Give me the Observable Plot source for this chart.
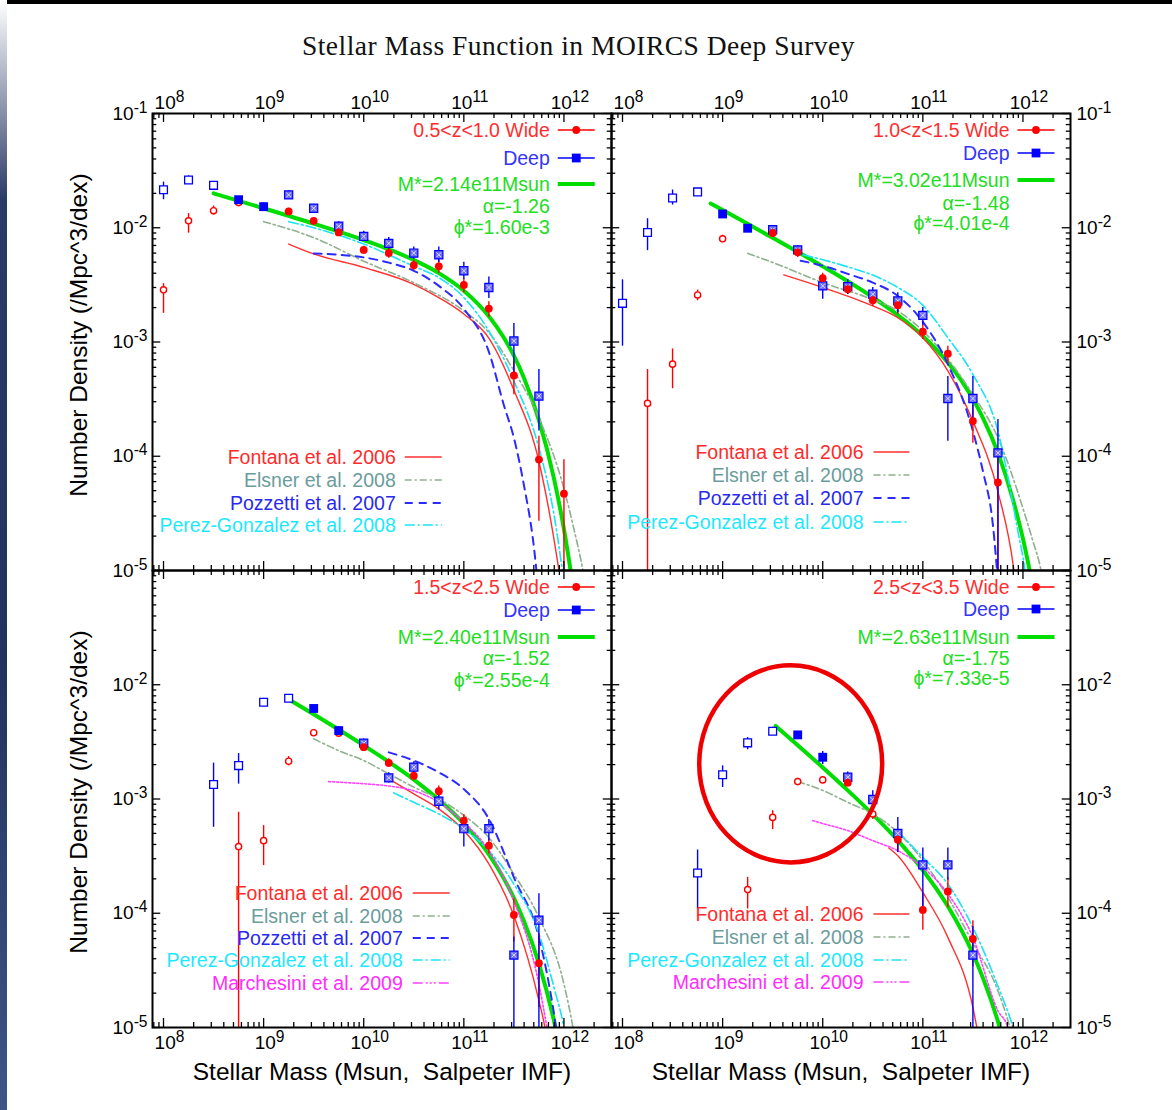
<!DOCTYPE html>
<html><head><meta charset="utf-8">
<script src="https://cdn.jsdelivr.net/npm/d3@7"></script>
<script src="https://cdn.jsdelivr.net/npm/@observablehq/plot@0.6"></script>
<style>
html,body{margin:0;padding:0;background:#fff;}
#page{position:relative;width:1172px;height:1110px;overflow:hidden;background:#fff;}
#title{position:absolute;left:0;top:31px;width:1157px;text-align:center;font-family:"Liberation Serif","DejaVu Serif",serif;font-size:27.5px;letter-spacing:0.5px;line-height:30px;color:#111;}
#chart{position:absolute;left:0;top:80px;}
#topbar{position:absolute;left:0;top:0;width:1172px;height:4px;background:#000;}
#sidebar{position:absolute;left:0;top:0;width:7px;height:1110px;background:linear-gradient(to bottom,#ffffff 0%,#2a3a66 18%,#22325e 60%,#3f5588 100%);}
svg text{white-space:pre;}
</style></head>
<body><div id="page"><div id="title">Stellar Mass Function in MOIRCS Deep Survey</div><div id="chart"></div><div id="topbar"></div><div id="sidebar"></div></div>
<script>
// ---------------- DATA (log10 stellar mass, number density, error low, error high, marker) ----------------
// marker: "o" open, "f" filled, "h" hatched
const panelKeys = [["L","T"],["R","T"],["L","B"],["R","B"]];
const zLabels = ["0.5<z<1.0 Wide","1.0<z<1.5 Wide","1.5<z<2.5 Wide","2.5<z<3.5 Wide"];
const deepLabel = "Deep";
const mStarLabels = ["M*=2.14e11Msun","M*=3.02e11Msun","M*=2.40e11Msun","M*=2.63e11Msun"];
const alphaLabels = ["α=-1.26","α=-1.48","α=-1.52","α=-1.75"];
const phiLabels = ["ϕ*=1.60e-3","ϕ*=4.01e-4","ϕ*=2.55e-4","ϕ*=7.33e-5"];
const refNames = {fontana:"Fontana et al. 2006", elsner:"Elsner et al. 2008", pozzetti:"Pozzetti et al. 2007", perez:"Perez-Gonzalez et al. 2008", marchesini:"Marchesini et al. 2009"};
const panelRefs = [["fontana","elsner","pozzetti","perez"],["fontana","elsner","pozzetti","perez"],["fontana","elsner","pozzetti","perez","marchesini"],["fontana","elsner","perez","marchesini"]];
const xTicks = [1e8,1e9,1e10,1e11,1e12];
const yTicks = [1e-5,1e-4,1e-3,1e-2,1e-1];
const xTitle = "Stellar Mass (Msun,  Salpeter IMF)";
const yTitle = "Number Density (/Mpc^3/dex)";

const wide1 = [
 [8.00,2.86e-3,1.78e-3,3.24e-3,"o"],[8.25,1.15e-2,8.97e-3,1.33e-2,"o"],[8.50,1.41e-2,1.29e-2,1.55e-2,"o"],[8.75,1.66e-2,1.55e-2,1.78e-2,"o"],
 [9.25,1.39e-2,1.30e-2,1.48e-2,"f"],[9.50,1.15e-2,1.07e-2,1.23e-2,"f"],[9.75,9.1e-3,8.4e-3,9.8e-3,"f"],[10.00,6.4e-3,5.9e-3,6.9e-3,"f"],
 [10.25,6.0e-3,5.4e-3,6.6e-3,"f"],[10.50,4.7e-3,4.2e-3,5.2e-3,"f"],[10.75,4.6e-3,4.0e-3,5.2e-3,"f"],[11.00,3.16e-3,2.7e-3,3.6e-3,"f"],
 [11.25,1.96e-3,1.65e-3,2.25e-3,"f"],[11.50,5.1e-4,3.45e-4,6.8e-4,"f"],[11.75,9.35e-5,2.7e-5,1.5e-4,"f"],[12.00,4.7e-5,1e-6,9.3e-5,"f"]
];
const deep1 = [
 [8.00,2.15e-2,1.76e-2,2.51e-2,"o"],[8.25,2.62e-2,2.40e-2,2.85e-2,"o"],[8.50,2.35e-2,2.20e-2,2.50e-2,"o"],[8.75,1.76e-2,1.65e-2,1.88e-2,"f"],
 [9.00,1.53e-2,1.42e-2,1.65e-2,"f"],[9.25,1.94e-2,1.80e-2,2.10e-2,"h"],[9.50,1.48e-2,1.38e-2,1.60e-2,"h"],[9.75,1.03e-2,9.4e-3,1.13e-2,"h"],
 [10.00,8.4e-3,7.6e-3,9.3e-3,"h"],[10.25,7.3e-3,6.5e-3,8.2e-3,"h"],[10.50,6.0e-3,5.3e-3,6.8e-3,"h"],[10.75,5.8e-3,5.0e-3,6.8e-3,"h"],
 [11.00,4.2e-3,3.55e-3,5.0e-3,"h"],[11.25,3.0e-3,2.4e-3,3.7e-3,"h"],[11.50,1.02e-3,5.2e-4,1.45e-3,"h"],[11.75,3.36e-4,1.66e-4,5.75e-4,"h"]
];
const wide2 = [
 [8.25,2.9e-4,1e-6,5.75e-4,"o"],[8.50,6.4e-4,3.9e-4,8.7e-4,"o"],[8.75,2.58e-3,2.3e-3,2.85e-3,"o"],[9.00,8.0e-3,7.4e-3,8.6e-3,"o"],
 [9.50,9.0e-3,8.3e-3,9.7e-3,"f"],[9.75,6.1e-3,5.5e-3,6.7e-3,"f"],[10.00,3.62e-3,3.3e-3,4.0e-3,"f"],[10.25,2.9e-3,2.6e-3,3.2e-3,"f"],
 [10.50,2.32e-3,2.05e-3,2.6e-3,"f"],[10.75,2.1e-3,1.75e-3,2.5e-3,"f"],[11.00,1.23e-3,1.05e-3,1.42e-3,"f"],[11.25,7.9e-4,6.5e-4,9.2e-4,"f"],
 [11.50,2.03e-4,1.3e-4,2.8e-4,"f"],[11.75,5.9e-5,1e-6,1.0e-4,"f"]
];
const deep2 = [
 [8.00,2.18e-3,9.2e-4,3.5e-3,"o"],[8.25,9.1e-3,6.3e-3,1.2e-2,"o"],[8.50,1.82e-2,1.58e-2,2.14e-2,"o"],[8.75,2.06e-2,1.95e-2,2.2e-2,"o"],
 [9.00,1.32e-2,1.24e-2,1.4e-2,"f"],[9.25,9.9e-3,9.2e-3,1.07e-2,"f"],[9.50,9.6e-3,8.9e-3,1.04e-2,"h"],[9.75,6.4e-3,5.7e-3,7.0e-3,"h"],
 [10.00,3.1e-3,2.37e-3,3.66e-3,"h"],[10.25,3.05e-3,2.6e-3,3.5e-3,"h"],[10.50,2.62e-3,2.25e-3,3.0e-3,"h"],[10.75,2.29e-3,1.8e-3,2.7e-3,"h"],
 [11.00,1.71e-3,1.4e-3,2.0e-3,"h"],[11.25,3.2e-4,1.35e-4,5.0e-4,"h"],[11.50,3.2e-4,2.0e-4,5.0e-4,"h"],[11.75,1.07e-4,1e-6,2.1e-4,"h"]
];
const wide3 = [
 [8.75,3.83e-4,1e-6,7.66e-4,"o"],[9.00,4.32e-4,2.61e-4,5.85e-4,"o"],[9.25,2.14e-3,1.95e-3,2.35e-3,"o"],[9.50,3.8e-3,3.55e-3,4.05e-3,"o"],
 [9.75,3.77e-3,3.5e-3,4.0e-3,"o"],[10.00,2.84e-3,2.6e-3,3.1e-3,"f"],[10.25,2.07e-3,1.9e-3,2.25e-3,"f"],[10.50,1.6e-3,1.45e-3,1.78e-3,"f"],
 [10.75,1.17e-3,1.05e-3,1.3e-3,"f"],[11.00,6.47e-4,5.7e-4,7.3e-4,"f"],[11.25,3.9e-4,3.3e-4,4.5e-4,"f"],[11.50,9.66e-5,5.6e-5,1.34e-4,"f"],
 [11.75,3.65e-5,1.5e-5,6.6e-5,"f"]
];
const deep3 = [
 [8.50,1.34e-3,5.65e-4,2.06e-3,"o"],[8.75,1.96e-3,1.35e-3,2.5e-3,"o"],[9.00,7.03e-3,6.5e-3,7.6e-3,"o"],[9.25,7.62e-3,7.2e-3,8.0e-3,"o"],
 [9.50,6.2e-3,5.8e-3,6.6e-3,"f"],[9.75,3.97e-3,3.7e-3,4.3e-3,"f"],[10.00,3.08e-3,2.85e-3,3.35e-3,"h"],[10.25,1.53e-3,1.38e-3,1.7e-3,"h"],
 [10.50,1.9e-3,1.7e-3,2.12e-3,"h"],[10.75,9.55e-4,8.0e-4,1.1e-3,"h"],[11.00,5.5e-4,3.8e-4,6.0e-4,"h"],[11.25,5.5e-4,4.3e-4,6.6e-4,"h"],
 [11.50,4.3e-5,1e-6,6.2e-5,"h"],[11.75,8.7e-5,1e-6,1.48e-4,"h"]
];
const wide4 = [
 [9.25,1.61e-4,1.09e-4,2.06e-4,"o"],[9.50,6.9e-4,5.4e-4,7.9e-4,"o"],[9.75,1.42e-3,1.32e-3,1.52e-3,"o"],[10.00,1.47e-3,1.37e-3,1.57e-3,"o"],
 [10.25,1.39e-3,1.28e-3,1.5e-3,"f"],[10.50,7.4e-4,6.6e-4,8.2e-4,"o"],[10.75,4.4e-4,3.4e-4,5.1e-4,"f"],[11.00,1.07e-4,7.1e-5,1.48e-4,"f"],
 [11.25,1.55e-4,1.12e-4,2.04e-4,"f"],[11.50,5.96e-5,3.4e-5,8.6e-5,"f"]
];
const deep4 = [
 [8.75,2.25e-4,1.09e-4,3.58e-4,"o"],[9.00,1.63e-3,1.26e-3,1.95e-3,"o"],[9.25,3.1e-3,2.7e-3,3.45e-3,"o"],[9.50,3.92e-3,3.6e-3,4.25e-3,"o"],
 [9.75,3.64e-3,3.4e-3,3.9e-3,"f"],[10.00,2.32e-3,2.0e-3,2.6e-3,"f"],[10.25,1.55e-3,1.35e-3,1.72e-3,"h"],[10.50,9.9e-4,8.0e-4,1.18e-3,"h"],
 [10.75,5.0e-4,3.41e-4,6.9e-4,"h"],[11.00,2.65e-4,1.13e-4,3.73e-4,"h"],[11.25,2.65e-4,1.95e-4,3.72e-4,"h"],[11.50,4.3e-5,1e-6,7.6e-5,"h"]
];

// curves: [log10 mass, number density]
const fit1 = [[8.5,2.0e-2],[9.0,1.48e-2],[9.5,1.086e-2],[10.0,7.8e-3],[10.5,5.22e-3],[10.75,4.01e-3],[11.0,2.81e-3],[11.25,1.68e-3],[11.4,1.09e-3],[11.5,7.6e-4],[11.6,4.87e-4],[11.75,2.07e-4],[11.9,6.4e-5],[12.0,2.3e-5],[12.1,6.4e-6]];
const fontana1 = [[9.25,7.2e-3],[9.5,5.9e-3],[10.0,4.5e-3],[10.5,3.2e-3],[10.75,2.45e-3],[11.0,1.76e-3],[11.25,1.08e-3],[11.5,3.8e-4],[11.75,9.0e-5],[11.95,1.0e-5],[12.0,5e-6]];
const elsner1 = [[9.0,1.13e-2],[9.5,8.2e-3],[10.0,5.1e-3],[10.5,3.3e-3],[11.0,1.87e-3],[11.25,1.21e-3],[11.5,5.6e-4],[11.75,2.17e-4],[12.0,5.2e-5],[12.1,2.3e-5],[12.19,1.0e-5],[12.25,5e-6]];
const pozzetti1 = [[9.5,5.96e-3],[9.75,5.8e-3],[10.0,5.5e-3],[10.25,4.95e-3],[10.5,4.2e-3],[10.75,3.1e-3],[11.0,1.95e-3],[11.25,8.2e-4],[11.4,2.8e-4],[11.5,1.45e-4],[11.6,5.6e-5],[11.7,1.6e-5],[11.75,6e-6]];
const perez1 = [[9.25,1.13e-2],[9.5,1.0e-2],[10.0,7.2e-3],[10.5,4.6e-3],[10.75,3.66e-3],[11.0,2.45e-3],[11.25,1.25e-3],[11.5,4.55e-4],[11.75,1.18e-4],[11.9,3.1e-5],[12.0,8e-6]];

const fit2 = [[8.88,1.63e-2],[9.0,1.43e-2],[9.5,8.16e-3],[10.0,4.59e-3],[10.5,2.46e-3],[10.75,1.72e-3],[11.0,1.13e-3],[11.25,6.6e-4],[11.4,4.39e-4],[11.5,3.17e-4],[11.6,2.17e-4],[11.75,1.07e-4],[11.9,4.19e-5],[12.0,1.9e-5],[12.1,7.2e-6]];
const fontana2 = [[9.61,3.87e-3],[10.0,3.0e-3],[10.5,2.07e-3],[10.75,1.63e-3],[11.0,1.09e-3],[11.25,5.6e-4],[11.5,2.03e-4],[11.75,4.9e-5],[11.91,1.0e-5],[11.95,5e-6]];
const elsner2 = [[9.25,5.96e-3],[9.5,4.97e-3],[10.0,3.31e-3],[10.5,2.35e-3],[10.75,1.87e-3],[11.0,1.25e-3],[11.25,7.1e-4],[11.5,3.47e-4],[11.75,1.45e-4],[12.0,3.5e-5],[12.1,1.8e-5],[12.18,1.0e-5],[12.22,6e-6]];
const pozzetti2 = [[9.78,5.14e-3],[10.0,4.65e-3],[10.25,3.95e-3],[10.5,3.31e-3],[10.75,2.53e-3],[11.0,1.5e-3],[11.25,6.4e-4],[11.5,1.66e-4],[11.6,7.4e-5],[11.7,2.5e-5],[11.75,8e-6]];
const perez2 = [[9.8,5.8e-3],[10.0,5.25e-3],[10.25,4.55e-3],[10.5,3.85e-3],[10.75,3.0e-3],[11.0,2.1e-3],[11.25,1.09e-3],[11.5,5.2e-4],[11.75,1.66e-4],[11.95,2.2e-5],[12.02,1.0e-5],[12.05,6e-6]];

const fit3 = [[9.25,7.47e-3],[9.5,5.51e-3],[10.0,2.94e-3],[10.5,1.48e-3],[10.75,9.87e-4],[11.0,6.1e-4],[11.25,3.27e-4],[11.4,2.01e-4],[11.5,1.36e-4],[11.6,8.57e-5],[11.75,3.62e-5],[11.9,1.15e-5],[12.0,4.3e-6]];
const fontana3 = [[10.25,1.5e-3],[10.5,1.11e-3],[10.75,8.2e-4],[11.0,5.3e-4],[11.25,2.7e-4],[11.5,9.5e-5],[11.75,1.72e-5],[11.81,1.0e-5],[11.85,6e-6]];
const elsner3 = [[9.5,3.37e-3],[9.75,2.65e-3],[10.0,2.17e-3],[10.25,1.66e-3],[10.5,1.27e-3],[10.75,1.0e-3],[11.0,7.2e-4],[11.25,4.6e-4],[11.5,2.2e-4],[11.75,9.2e-5],[12.0,2.4e-5],[12.09,1.0e-5],[12.12,7e-6]];
const pozzetti3 = [[10.25,2.56e-3],[10.5,2.17e-3],[10.75,1.71e-3],[11.0,1.22e-3],[11.25,6.7e-4],[11.5,2.06e-4],[11.75,6.15e-5],[11.85,2.4e-5],[11.92,1.0e-5],[11.95,6e-6]];
const perez3 = [[10.3,1.13e-3],[10.5,9.35e-4],[10.75,7.4e-4],[11.0,5.47e-4],[11.25,3.53e-4],[11.5,1.8e-4],[11.75,6.6e-5],[11.9,2.25e-5],[12.0,1.0e-5],[12.03,7e-6]];
const marchesini3 = [[9.65,1.42e-3],[10.0,1.36e-3],[10.25,1.3e-3],[10.5,1.18e-3],[10.75,9.35e-4],[11.0,6.25e-4],[11.25,3.53e-4],[11.5,1.29e-4],[11.75,2.4e-5],[11.83,1.0e-5],[11.86,7e-6]];

const fit4 = [[9.53,4.36e-3],[9.75,2.96e-3],[10.0,1.89e-3],[10.25,1.19e-3],[10.5,7.33e-4],[10.75,4.34e-4],[11.0,2.38e-4],[11.25,1.15e-4],[11.5,4.42e-5],[11.6,2.72e-5],[11.75,1.13e-5],[11.8,7.95e-6]];
const fontana4 = [[10.66,3.73e-4],[10.75,3.19e-4],[11.0,1.52e-4],[11.25,6.15e-5],[11.5,1.5e-5],[11.54,1.0e-5],[11.58,7e-6]];
const elsner4 = [[9.75,1.42e-3],[10.0,1.19e-3],[10.25,9.35e-4],[10.5,7.4e-4],[10.75,5.1e-4],[11.0,2.89e-4],[11.25,1.38e-4],[11.5,5.5e-5],[11.75,2.1e-5],[11.87,1.0e-5],[11.9,8e-6]];
const perez4 = [[10.75,5.2e-4],[11.0,3.09e-4],[11.25,1.8e-4],[11.5,7.5e-5],[11.75,2.3e-5],[11.9,1.0e-5],[11.93,8e-6]];
const marchesini4 = [[9.9,6.47e-4],[10.0,6.1e-4],[10.25,5.29e-4],[10.5,4.32e-4],[10.75,3.53e-4],[11.0,2.52e-4],[11.25,1.48e-4],[11.5,6.15e-5],[11.75,1.4e-5],[11.85,1.0e-5],[11.88,8e-6]];

// highlighted region (red ellipse) in the 2.5<z<3.5 panel: centre
const highlight = [{col:"R", row:"B", lm:9.68, phi:2.03e-3}];

// ---------------- STYLE / LAYOUT ----------------
const FONT = '"Liberation Sans", Arial, Helvetica, sans-serif';
const W = 1172, H = 1030, ML = 151, MR = 101.5, MT = 33, MB = 83;
const FW = (W - ML - MR) / 2, FH = (H - MT - MB) / 2;
const xDomain = [10 ** 7.89, 10 ** 12.475];
const yDomain = [1e-5, 1e-1];
const RED = "#ff0000", BLUE = "#0000ff";
const styles = {
  fit:       {stroke:"#00dd00", strokeWidth:4},
  fontana:   {stroke:"#ff3030", strokeWidth:1.4},
  elsner:    {stroke:"#8fb08f", strokeWidth:1.6, strokeDasharray:"7,3,2,3"},
  pozzetti:  {stroke:"#2b2bff", strokeWidth:2, strokeDasharray:"8,6"},
  perez:     {stroke:"#18e4f4", strokeWidth:1.6, strokeDasharray:"10,3,2,3"},
  marchesini:{stroke:"#ff40ff", strokeWidth:1.6, strokeDasharray:"2,2"}
};
const legendDash = {marchesini:"10,3,2,2,2,2,2,3"};
const refTextColor = {fontana:"#ff2b2b", elsner:"#6b9c9c", pozzetti:"#2a2aee", perez:"#1ee8ff", marchesini:"#ff2cff"};
const legendLayout = [
  {top:[17,45,71,93,114], bottom:[344,367,390,412], textR:215, lineA:206, lineB:169},
  {top:[17,40,67,90,110], bottom:[339,362,385,409], textR:207, lineA:197, lineB:161},
  {top:[17,40,67,88,110], bottom:[323,346,368,390,413], textR:208, lineA:198, lineB:161},
  {top:[17,39,67,88,108], bottom:[344,367,390,412], textR:207, lineA:197, lineB:161}
];
const LEG_FONT = 19.5, TICK_FONT = 19, TITLE_FONT = 24.5;

// ---------------- TABLES ----------------
const pts = [];
[[wide1,wide2,wide3,wide4],[deep1,deep2,deep3,deep4]].forEach((sets, s) => sets.forEach((arr, i) => arr.forEach(([lm, phi, lo, hi, k]) =>
  pts.push({set: s ? "deep" : "wide", kind:k, mass:10 ** lm, phi, lo, hi, col:panelKeys[i][0], row:panelKeys[i][1]}))));
const curveSets = {
  fit:[fit1,fit2,fit3,fit4], fontana:[fontana1,fontana2,fontana3,fontana4], elsner:[elsner1,elsner2,elsner3,elsner4],
  pozzetti:[pozzetti1,pozzetti2,pozzetti3,null], perez:[perez1,perez2,perez3,perez4], marchesini:[null,null,marchesini3,marchesini4]
};
const curveRows = [];
for (const [name, arrs] of Object.entries(curveSets)) arrs.forEach((arr, i) => { if (!arr) return;
  arr.forEach(([lm, phi]) => curveRows.push({name, key:name + i, col:panelKeys[i][0], row:panelKeys[i][1], mass:10 ** lm, phi})); });
const hl = highlight.map(d => ({...d, mass:10 ** d.lm}));

// tick label rows (the shared edge between the rows is labelled only once)
const yLab = [], xLab = [];
panelKeys.forEach(([col, row]) => {
  yTicks.forEach(v => { if (!(row === "B" && v === 1e-1)) yLab.push({col, row, v}); });
  xTicks.forEach(v => xLab.push({col, row, v}));
});

// minor ticks from the scale
const xAll = d3.scaleLog().domain(xDomain).ticks();
const yAll = d3.scaleLog().domain(yDomain).ticks();
const isMajor = v => Math.abs(Math.log10(v) - Math.round(Math.log10(v))) < 1e-9;
const xMinor = xAll.filter(v => !isMajor(v)), yMinor = yAll.filter(v => !isMajor(v));

const ellipseSymbol = {draw(ctx, size) {
  const r = Math.sqrt(size / Math.PI), rx = r * 0.963, ry = r * 1.037, k = 0.5523;
  ctx.moveTo(rx, 0);
  ctx.bezierCurveTo(rx, ry * k, rx * k, ry, 0, ry);
  ctx.bezierCurveTo(-rx * k, ry, -rx, ry * k, -rx, 0);
  ctx.bezierCurveTo(-rx, -ry * k, -rx * k, -ry, 0, -ry);
  ctx.bezierCurveTo(rx * k, -ry, rx, -ry * k, rx, 0);
  ctx.closePath();
}};

const fmt = d => "10^" + Math.round(Math.log10(d));
const tick = {stroke:"#000", strokeWidth:1.3};
const F = {fx:"col", fy:"row"};

const chart = Plot.plot({
  width: W, height: H, marginLeft: ML, marginRight: MR, marginTop: MT, marginBottom: MB,
  style: {fontFamily: FONT, fontSize: "18px", background: "transparent", color: "#000", overflow: "visible"},
  x: {type: "log", domain: xDomain, axis: null},
  y: {type: "log", domain: yDomain, axis: null},
  fx: {domain: ["L","R"], padding: 0, axis: null},
  fy: {domain: ["T","B"], padding: 0, axis: null},
  marks: [
    ...["fit","fontana","elsner","pozzetti","perez","marchesini"].map(name =>
      Plot.line(curveRows.filter(d => d.name === name), {x:"mass", y:"phi", z:"key", ...F, curve:"monotone-x", clip:true, ...styles[name]})),
    Plot.ruleX(pts.filter(d => d.set === "wide"), {x:"mass", y1:"lo", y2:"hi", ...F, stroke:RED, strokeWidth:1.4, clip:true}),
    Plot.dot(pts.filter(d => d.set === "wide" && d.kind === "o"), {x:"mass", y:"phi", ...F, r:3.1, stroke:RED, fill:"#fff", strokeWidth:1.4}),
    Plot.ruleX(pts.filter(d => d.set === "deep"), {x:"mass", y1:"lo", y2:"hi", ...F, stroke:BLUE, strokeWidth:1.4, clip:true}),
    Plot.dot(pts.filter(d => d.set === "deep" && d.kind === "o"), {x:"mass", y:"phi", ...F, symbol:"square", r:4.4, stroke:BLUE, fill:"#fff", strokeWidth:1.3}),
    Plot.dot(pts.filter(d => d.set === "deep" && d.kind === "f"), {x:"mass", y:"phi", ...F, symbol:"square", r:5, fill:BLUE}),
    Plot.dot(pts.filter(d => d.set === "deep" && d.kind === "h"), {x:"mass", y:"phi", ...F, symbol:"square", r:4.6, fill:"#6d6df2", stroke:BLUE, strokeWidth:1.2}),
    Plot.dot(pts.filter(d => d.set === "deep" && d.kind === "h"), {x:"mass", y:"phi", ...F, symbol:"times", r:2.2, stroke:"#e8e8ff", strokeWidth:0.9}),
    Plot.dot(pts.filter(d => d.set === "wide" && d.kind === "f"), {x:"mass", y:"phi", ...F, r:3.9, fill:RED}),
    Plot.dot(hl, {x:"mass", y:"phi", ...F, r:95, symbol:ellipseSymbol, stroke:"#ee0000", strokeWidth:4.5, fill:"none"}),
    Plot.frame({stroke:"#000", strokeWidth:2}),
    Plot.ruleY(yTicks, {y:d => d, insetRight: FW - 9, ...tick}),
    Plot.ruleY(yTicks, {y:d => d, insetLeft: FW - 9, ...tick}),
    Plot.ruleY(yMinor, {y:d => d, insetRight: FW - 5, ...tick}),
    Plot.ruleY(yMinor, {y:d => d, insetLeft: FW - 5, ...tick}),
    Plot.ruleX(xTicks, {x:d => d, insetBottom: FH - 9, ...tick}),
    Plot.ruleX(xTicks, {x:d => d, insetTop: FH - 9, ...tick}),
    Plot.ruleX(xMinor, {x:d => d, insetBottom: FH - 5, ...tick}),
    Plot.ruleX(xMinor, {x:d => d, insetTop: FH - 5, ...tick}),
    // tick labels
    Plot.text(xLab.filter(d => d.row === "T"), {x:"v", ...F, text:d => fmt(d.v), frameAnchor:"top", lineAnchor:"bottom", dy:-5, dx:6, fontSize:TICK_FONT, fill:"#000"}),
    Plot.text(xLab.filter(d => d.row === "B"), {x:"v", ...F, text:d => fmt(d.v), frameAnchor:"bottom", lineAnchor:"top", dy:8, dx:6, fontSize:TICK_FONT, fill:"#000"}),
    Plot.text(yLab.filter(d => d.col === "L"), {y:"v", ...F, text:d => fmt(d.v), frameAnchor:"left", textAnchor:"end", dx:-5, fontSize:TICK_FONT, fill:"#000"}),
    Plot.text(yLab.filter(d => d.col === "R"), {y:"v", ...F, text:d => fmt(d.v), frameAnchor:"right", textAnchor:"start", dx:6, fontSize:TICK_FONT, fill:"#000"}),
    // axis titles
    Plot.text([{col:"L",row:"T",t:yTitle},{col:"L",row:"B",t:yTitle}], {...F, text:"t", frameAnchor:"left", textAnchor:"middle", rotate:-90, dx:-73, dy:-7, fontSize:TITLE_FONT, fill:"#000"}),
    Plot.text([{col:"L",row:"B",t:xTitle},{col:"R",row:"B",t:xTitle}], {...F, text:"t", frameAnchor:"bottom", dy:52, fontSize:TITLE_FONT, fill:"#000"})
  ]
});

// superscript exponents on tick labels
chart.querySelectorAll("text").forEach(t => {
  const m = /^10\^(-?\d+)$/.exec(t.textContent);
  if (!m) return;
  t.textContent = "10";
  const ts = document.createElementNS("http://www.w3.org/2000/svg", "tspan");
  ts.setAttribute("dy", "-0.45em");
  ts.setAttribute("font-size", "0.82em");
  ts.textContent = m[1];
  t.appendChild(ts);
});

// in-panel legends (key boxes), placed relative to each facet frame
const lg = d3.select(chart).append("g").attr("font-family", FONT).attr("font-size", LEG_FONT);
panelKeys.forEach(([col, row], i) => {
  const L = legendLayout[i];
  const xr = ML + FW * (col === "L" ? 1 : 2), yt = MT + FH * (row === "T" ? 0 : 1);
  const texts = [zLabels[i], deepLabel, mStarLabels[i], alphaLabels[i], phiLabels[i]];
  const cols = ["#ff2e2e", "#3434ff", "#22dd22", "#22dd22", "#22dd22"];
  texts.forEach((t, j) => lg.append("text").attr("x", xr - 61).attr("y", yt + L.top[j]).attr("dy", "0.35em")
    .attr("text-anchor", "end").attr("fill", cols[j]).text(t));
  const x1 = xr - 53, x2 = xr - 16, xm = (x1 + x2) / 2;
  const hline = (y, stroke, w, dash) => lg.append("line").attr("x1", x1).attr("x2", x2).attr("y1", y).attr("y2", y)
    .attr("stroke", stroke).attr("stroke-width", w).attr("stroke-dasharray", dash || null);
  hline(yt + L.top[0], RED, 1.4);
  lg.append("circle").attr("cx", xm).attr("cy", yt + L.top[0]).attr("r", 3.9).attr("fill", RED);
  hline(yt + L.top[1], BLUE, 1.4);
  lg.append("rect").attr("x", xm - 4.4).attr("y", yt + L.top[1] - 4.4).attr("width", 8.8).attr("height", 8.8).attr("fill", BLUE);
  hline(yt + L.top[2], styles.fit.stroke, 4);
  panelRefs[i].forEach((k, j) => {
    const y = yt + L.bottom[j], s = styles[k];
    lg.append("text").attr("x", xr - L.textR).attr("y", y).attr("dy", "0.35em").attr("text-anchor", "end").attr("fill", refTextColor[k]).text(refNames[k]);
    lg.append("line").attr("x1", xr - L.lineA).attr("x2", xr - L.lineB).attr("y1", y).attr("y2", y)
      .attr("stroke", s.stroke).attr("stroke-width", Math.min(s.strokeWidth, 1.8)).attr("stroke-dasharray", legendDash[k] || s.strokeDasharray || null);
  });
});
document.getElementById("chart").appendChild(chart);
</script></body></html>
